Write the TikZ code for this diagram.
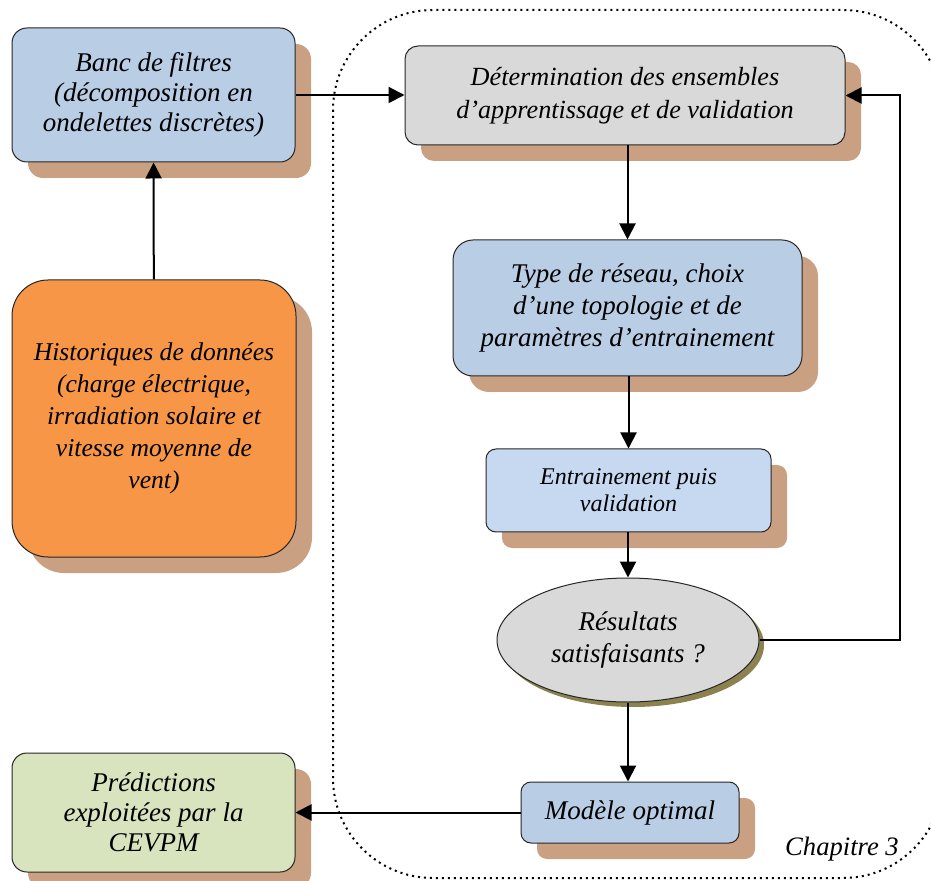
\documentclass[tikz,border=0pt]{standalone}
\usepackage{fontspec}
\setmainfont{Liberation Serif}
\usetikzlibrary{arrows.meta,shadows,shapes.geometric}
\definecolor{bleu}{RGB}{185,205,229}
\definecolor{bleuclair}{RGB}{198,217,241}
\definecolor{gris}{RGB}{217,217,217}
\definecolor{orange}{RGB}{247,150,70}
\definecolor{vert}{RGB}{215,228,189}
\definecolor{ombre}{RGB}{201,161,130}
\definecolor{olive}{RGB}{140,130,80}
\begin{document}
\begin{tikzpicture}[x=0.5pt,y=-0.5pt,
  forme/.style={draw=black!85,line width=0.5pt,align=center,inner sep=0pt,
    font=\fontsize{13.5}{15}\selectfont\itshape},
  boite/.style={forme,
    drop shadow={shadow xshift=8pt,shadow yshift=-8pt,fill=ombre,opacity=1}},
  fleche/.style={line width=1pt,-{Triangle[length=8pt,width=8pt]}}]
\useasboundingbox (0,0) rectangle (931,881);
\draw[dotted,line width=1pt,rounded corners=50pt] (333,10) rectangle (943,878);

\node[boite,fill=bleu,rounded corners=7.5pt,minimum width=141.5pt,minimum height=67pt] (banc) at (153.5,95)
  {Banc de filtres\\(décomposition en\\ondelettes discrètes)};
\node[boite,fill=orange,rounded corners=18pt,minimum width=142pt,minimum height=138.5pt,
  font=\fontsize{12.8}{16}\selectfont\itshape] (hist) at (154,418.5)
  {Historiques de données\\(charge électrique,\\irradiation solaire et\\vitesse moyenne de\\vent)};
\node[boite,fill=vert,rounded corners=7.5pt,minimum width=141.5pt,minimum height=59.5pt] (pred) at (153.5,812.5)
  {Prédictions\\exploitées par la\\CEVPM};

\node[boite,fill=gris,rounded corners=6.5pt,minimum width=220pt,minimum height=49.5pt,
  font=\fontsize{13.1}{16.5}\selectfont\itshape] (det) at (625,95.5)
  {Détermination des ensembles\\d’apprentissage et de validation};
\node[boite,fill=bleu,rounded corners=10pt,minimum width=174.5pt,minimum height=68pt,
  font=\fontsize{13.5}{16}\selectfont\itshape] (type) at (627.5,308)
  {Type de réseau, choix\\d’une topologie et de\\paramètres d’entrainement};
\node[boite,fill=bleuclair,rounded corners=5pt,minimum width=142.5pt,minimum height=41.5pt,
  font=\fontsize{12}{13.5}\selectfont\itshape] (entr) at (628.5,490.5)
  {Entrainement puis\\validation};
\node[forme,ellipse,fill=gris,minimum width=131pt,minimum height=62pt,
  font=\fontsize{13.5}{16}\selectfont\itshape,
  drop shadow={shadow xshift=2.5pt,shadow yshift=-2.5pt,fill=olive,opacity=1}] (res) at (628,640)
  {Résultats\\satisfaisants ?};
\node[boite,fill=bleu,rounded corners=5pt,minimum width=109pt,minimum height=30.5pt] (mod) at (630,812.5)
  {Modèle optimal};

\node[font=\fontsize{13.3}{15}\selectfont\itshape] (chap) at (842,849) {Chapitre 3};

\coordinate (retour) at (900,95.5);
\draw[fleche] (hist) -- (banc);
\draw[fleche] (banc.east) -- (banc.east -| det.west);
\draw[fleche] (type.north |- det.south) -- (type.north);
\draw[fleche] (type.south -| entr) -- (entr.north);
\draw[fleche] (entr.south -| res) -- (res.north);
\draw[fleche] (res.south) -- (res.south |- mod.north);
\draw[fleche] (res.east) -| (retour) -- (det.east);
\draw[fleche] (mod.west) -- (mod.west -| pred.east);
\end{tikzpicture}
\end{document}
